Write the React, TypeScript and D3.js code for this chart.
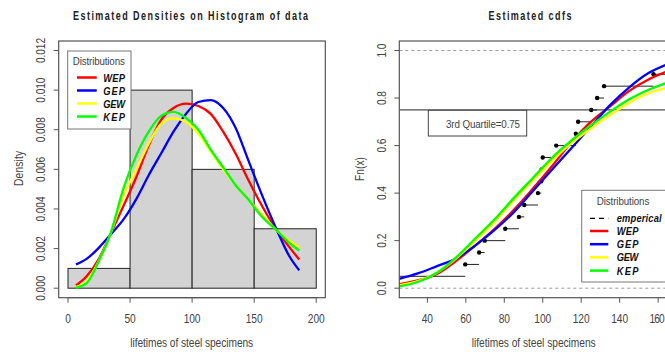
import React from 'react';
import * as d3 from 'd3';

// ---------- data ----------
const histBreaks = [0, 50, 100, 150, 200];
const histDensity = [0.001, 0.010, 0.006, 0.003];

const densX = [6.4, 15, 25, 33.8, 45, 55, 65, 75, 85, 95, 105, 115, 125, 135, 145, 155, 168.6, 178, 186.3];
const densWEP = [0.00014, 0.0006, 0.0015, 0.00267, 0.0042, 0.0056, 0.0072, 0.0085, 0.0091, 0.00932, 0.0092, 0.0088, 0.0079, 0.0068, 0.0055, 0.0043, 0.00289, 0.0021, 0.00145];
const densGEP = [0.0012, 0.00148, 0.00205, 0.00267, 0.0035, 0.0045, 0.0057, 0.0068, 0.0079, 0.0088, 0.0094, 0.0095, 0.0091, 0.0081, 0.0065, 0.0049, 0.00289, 0.00165, 0.0009];
const densGEW = [0.00006, 0.00035, 0.0014, 0.00267, 0.0047, 0.0060, 0.0073, 0.0083, 0.00858, 0.0084, 0.0078, 0.0069, 0.006, 0.0052, 0.0045, 0.0038, 0.00289, 0.0024, 0.00208];
const densKEP = [0.00002, 0.00025, 0.0014, 0.00267, 0.0051, 0.0067, 0.0079, 0.0087, 0.0089, 0.0086, 0.008, 0.007, 0.0061, 0.0052, 0.0045, 0.0037, 0.00289, 0.0023, 0.0019];

const cdfX = [25.4, 35, 45, 55, 65, 75, 85, 95, 105, 115, 125, 135, 145, 155, 164.1];
const cdfWEP = [0.017, 0.033, 0.06, 0.115, 0.18, 0.25, 0.33, 0.42, 0.515, 0.615, 0.7, 0.765, 0.83, 0.878, 0.91];
const cdfGEP = [0.039, 0.062, 0.093, 0.125, 0.18, 0.245, 0.32, 0.41, 0.5, 0.59, 0.68, 0.77, 0.845, 0.905, 0.94];
const cdfGEW = [0.013, 0.03, 0.065, 0.125, 0.2, 0.28, 0.37, 0.455, 0.538, 0.61, 0.672, 0.728, 0.78, 0.82, 0.843];
const cdfKEP = [0.008, 0.026, 0.065, 0.13, 0.21, 0.29, 0.38, 0.465, 0.55, 0.622, 0.685, 0.743, 0.795, 0.835, 0.863];

const lifetimes = [6.4, 59.7, 66.9, 69.8, 80.5, 87.6, 90.4, 97.5, 99.2, 99.4, 100, 107, 117.2, 118.4, 125.2, 128.3, 131.9, 157.6, 172, 186.3];

const seriesNames = ['WEP', 'GEP', 'GEW', 'KEP'];
const seriesColors = ['#ff0000', '#0000ff', '#ffff00', '#00ff00'];

const densTicks = [0, 0.002, 0.004, 0.006, 0.008, 0.01, 0.012];
const histTicks = [0, 50, 100, 150, 200];
const cdfYTicks = [0, 0.2, 0.4, 0.6, 0.8, 1.0];
const cdfXTicks = [40, 60, 80, 100, 120, 140, 160];

// ---------- layout ----------
const L = { x0: 58.7, x1: 325.3, y0: 41, y1: 297.7 };
const R = { x0: 399.3, x1: 666, y0: 41, y1: 297.7 };
const FONT = 'Liberation Sans, Arial, sans-serif';
const FRAME = '#555';

type TP = { x: number; y: number; w: number; size?: number; sx?: number; rot?: number; anchor?: string; weight?: string; italic?: boolean; fill?: string; children: any };
function T({ x, y, w, size = 11, sx = 0.85, rot = 0, anchor = 'middle', weight = 'normal', italic = false, fill = '#333', children }: TP) {
  return (
    <g transform={`translate(${x},${y}) rotate(${rot}) scale(${sx},1)`}>
      <text x={0} y={0} textAnchor={anchor} fontFamily={FONT} fontSize={size} fontWeight={weight}
        fontStyle={italic ? 'italic' : 'normal'} fill={fill} textLength={w / sx} lengthAdjust="spacing">{children}</text>
    </g>
  );
}

const numW = (s: string) => s.split('').reduce((a, c) => a + (c === '.' ? 2.8 : 5.6), 0);

export default function App() {
  const lx = d3.scaleLinear().domain([-7.5, 207.3]).range([L.x0, L.x1]);
  const ly = d3.scaleLinear().domain([-0.00048, 0.01248]).range([L.y1, L.y0]);
  const rx = d3.scaleLinear().domain([25.4, 164.1]).range([R.x0, R.x1]);
  const ry = d3.scaleLinear().domain([-0.04, 1.04]).range([R.y1, R.y0]);

  const densSeries = [densWEP, densGEP, densGEW, densKEP];
  const cdfSeries = [cdfWEP, cdfGEP, cdfGEW, cdfKEP];

  const densLine = d3.line<[number, number]>().x(d => lx(d[0])).y(d => ly(d[1])).curve(d3.curveMonotoneX);
  const cdfLine = d3.line<[number, number]>().x(d => rx(d[0])).y(d => ry(d[1])).curve(d3.curveMonotoneX);

  const n = lifetimes.length;
  const segs = [{ a: -1000, b: lifetimes[0], v: 0 }].concat(
    lifetimes.map((x, i) => ({ a: x, b: i < n - 1 ? lifetimes[i + 1] : 1000, v: (i + 1) / n }))
  );

  const fmt3 = d3.format('.3f');
  const fmt1 = d3.format('.1f');

  return (
    <svg width={665} height={352} style={{ position: 'absolute', left: 0, top: 0, background: '#fff' }}>
      <defs>
        <clipPath id="clipR"><rect x={R.x0} y={R.y0} width={R.x1 - R.x0} height={R.y1 - R.y0} /></clipPath>
        <clipPath id="clipL"><rect x={L.x0} y={L.y0} width={L.x1 - L.x0} height={L.y1 - L.y0} /></clipPath>
      </defs>
      <rect x={0} y={0} width={665} height={352} fill="#fff" />

      {/* ================= LEFT PANEL ================= */}
      <T x={190.5} y={19.5} w={235} size={12} weight="bold" sx={0.75} fill="#222">Estimated Densities on Histogram of data</T>
      {histDensity.map((d, i) => (
        <rect key={i} x={lx(histBreaks[i])} y={ly(d)} width={lx(histBreaks[i + 1]) - lx(histBreaks[i])}
          height={ly(0) - ly(d)} fill="#d3d3d3" stroke="#222" strokeWidth={1} />
      ))}
      <g clipPath="url(#clipL)">
        {densSeries.map((s, k) => (
          <path key={k} d={densLine(densX.map((x, i) => [x, s[i]] as [number, number])) || ''}
            fill="none" stroke={seriesColors[k]} strokeWidth={2.3} />
        ))}
      </g>
      <rect x={L.x0} y={L.y0} width={L.x1 - L.x0} height={L.y1 - L.y0} fill="none" stroke={FRAME} strokeWidth={1.2} />
      {/* x axis */}
      <line x1={lx(0)} x2={lx(200)} y1={L.y1} y2={L.y1} stroke={FRAME} />
      {histTicks.map(t => (
        <g key={t}>
          <line x1={lx(t)} x2={lx(t)} y1={L.y1} y2={L.y1 + 5} stroke={FRAME} />
          <T x={lx(t)} y={322.5} w={numW(String(t))} size={12} fill="#444">{String(t)}</T>
        </g>
      ))}
      {/* y axis */}
      {densTicks.map(t => (
        <g key={t}>
          <line x1={L.x0} x2={L.x0 - 5} y1={ly(t)} y2={ly(t)} stroke={FRAME} />
          <T x={45} y={ly(t)} rot={-90} w={numW(fmt3(t))} size={12} fill="#444">{fmt3(t)}</T>
        </g>
      ))}
      <T x={191.7} y={347} w={123} size={12} fill="#444">lifetimes  of  steel  specimens</T>
      <T x={22.5} y={168.5} rot={-90} w={35} size={12} fill="#444">Density</T>

      {/* legend left */}
      <rect x={67.7} y={51} width={63.3} height={78} fill="#fff" stroke="#777" strokeWidth={1} />
      <T x={98.8} y={65} w={52} size={11.5} fill="#444">Distributions</T>
      {seriesNames.map((nm, i) => (
        <g key={nm}>
          <line x1={77} x2={96.7} y1={77.5 + i * 13} y2={77.5 + i * 13} stroke={seriesColors[i]} strokeWidth={2.5} />
          <T x={103.3} y={81.5 + i * 13} w={21.7} anchor="start" size={11} weight="bold" italic fill="#111">{nm}</T>
        </g>
      ))}

      {/* ================= RIGHT PANEL ================= */}
      <T x={530} y={19.5} w={83} size={12} weight="bold" sx={0.75} fill="#222">Estimated cdfs</T>
      <g clipPath="url(#clipR)">
        <line x1={R.x0} x2={R.x1} y1={ry(0)} y2={ry(0)} stroke="#999" strokeDasharray="3,3" />
        <line x1={R.x0} x2={R.x1} y1={ry(1)} y2={ry(1)} stroke="#999" strokeDasharray="3,3" />
        {segs.map((s, i) => (
          <line key={i} x1={rx(Math.max(s.a, 0))} x2={rx(Math.min(s.b, 300))} y1={ry(s.v)} y2={ry(s.v)} stroke="#222" strokeWidth={1} />
        ))}
        {lifetimes.map((x, i) => (
          <circle key={i} cx={rx(x)} cy={ry((i + 1) / n)} r={2.2} fill="#000" />
        ))}
        <line x1={R.x0} x2={R.x1} y1={ry(0.75)} y2={ry(0.75)} stroke="#222" strokeWidth={1} />
        {cdfSeries.map((s, k) => (
          <path key={k} d={cdfLine(cdfX.map((x, i) => [x, s[i]] as [number, number])) || ''}
            fill="none" stroke={seriesColors[k]} strokeWidth={2.3} />
        ))}
      </g>
      <rect x={428.3} y={110.3} width={98.4} height={25.7} fill="#fff" stroke="#444" strokeWidth={1} />
      <T x={483} y={128} w={74} size={11.5} fill="#444">3rd Quartile=0.75</T>

      <rect x={R.x0} y={R.y0} width={R.x1 - R.x0} height={R.y1 - R.y0} fill="none" stroke={FRAME} strokeWidth={1.2} />
      {cdfXTicks.map(t => (
        <g key={t}>
          <line x1={rx(t)} x2={rx(t)} y1={R.y1} y2={R.y1 + 5} stroke={FRAME} />
          <T x={rx(t) - (t === 160 ? 1 : 0)} y={322.5} w={t === 160 ? 15 : numW(String(t))} size={12} fill="#444">{String(t)}</T>
        </g>
      ))}
      {cdfYTicks.map(t => (
        <g key={t}>
          <line x1={R.x0} x2={R.x0 - 5} y1={ry(t)} y2={ry(t)} stroke={FRAME} />
          <T x={386} y={ry(t)} rot={-90} w={numW(fmt1(t))} size={12} fill="#444">{fmt1(t)}</T>
        </g>
      ))}
      <T x={533.7} y={347} w={124} size={12} fill="#444">lifetimes  of  steel  specimens</T>
      <T x={364} y={169} rot={-90} w={24} size={12} fill="#444">Fn(x)</T>

      {/* legend right */}
      <rect x={581.7} y={190.3} width={100} height={91.7} fill="#fff" stroke="#777" strokeWidth={1} />
      <T x={623} y={205.3} w={52.6} size={11.5} fill="#444">Distributions</T>
      <line x1={590} x2={608.3} y1={218.3} y2={218.3} stroke="#000" strokeWidth={1.3} strokeDasharray="5,4" />
      <T x={616.7} y={222.3} w={45} anchor="start" size={11} weight="bold" italic fill="#111">emperical</T>
      {seriesNames.map((nm, i) => (
        <g key={nm}>
          <line x1={590} x2={608.3} y1={231 + i * 13.2} y2={231 + i * 13.2} stroke={seriesColors[i]} strokeWidth={2.5} />
          <T x={616.7} y={235 + i * 13.2} w={21.7} anchor="start" size={11} weight="bold" italic fill="#111">{nm}</T>
        </g>
      ))}
    </svg>
  );
}
